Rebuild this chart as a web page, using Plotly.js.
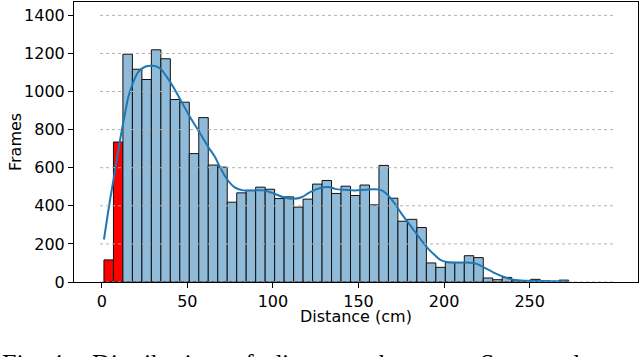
<!DOCTYPE html>
<html>
<head>
<meta charset="utf-8">
<script src="https://cdn.plot.ly/plotly-3.0.1.min.js"></script>
<style>
  html, body { margin: 0; padding: 0; background: #fff; overflow: hidden; }
  #chart { width: 640px; height: 357px; }
</style>
</head>
<body>
<div id="chart"></div>
<script>
// histogram bins (cm)
const binStart = 1.3;
const binWidth = 5.54;
const nearBins = 2; // the first bins are drawn in red

// frames per bin
const counts = [
  116, 735, 1196, 1117, 1063, 1219, 1172, 958, 944, 674,
  863, 614, 603, 419, 468, 481, 498, 487, 438, 447,
  393, 435, 514, 533, 465, 503, 454, 509, 405, 612,
  440, 319, 329, 286, 100, 77, 102, 102, 138, 128,
  21, 12, 24, 7, 5, 14, 4, 3, 10
];

// kde curve
const kdeX = [
  1.3, 4.8, 7.8, 10.7, 13.6, 15.6, 18.5, 21.4, 25.3, 30.1,
  34.1, 38.0, 41.8, 46.7, 51.6, 56.4, 62.3, 66.2, 68.1, 73.0,
  77.9, 82.7, 88.6, 94.4, 100.2, 106.1, 111.9, 116.8, 121.7, 127.5,
  133.4, 136.3, 142.1, 148.0, 153.8, 159.6, 163.6, 167.4, 171.3, 175.2,
  181.1, 186.9, 190.8, 194.7, 197.6, 201.5, 207.4, 213.2, 219.0, 222.9,
  228.7, 234.6, 240.4, 248.2, 256.0, 263.8, 272.8
];
const kdeY = [
  223, 428, 586, 744, 884, 972, 1051, 1103, 1130, 1135,
  1121, 1077, 1024, 945, 866, 796, 708, 656, 621, 542,
  495, 481, 481, 481, 466, 445, 437, 445, 472, 493,
  498, 489, 484, 481, 484, 487, 481, 454, 410, 358,
  287, 217, 174, 140, 118, 105, 102, 102, 95, 78,
  51, 28, 12, 6, 5, 4, 3
];

const xTicks = [0, 50, 100, 150, 200, 250];
const yTicks = [0, 200, 400, 600, 800, 1000, 1200, 1400];

const captionWords = ["Fig.", "4.", "Distribution", "of", "distances", "between", "Spot", "and"];

// bars
const centers = counts.map((_, i) => binStart + binWidth * (i + 0.5));
const barColors = counts.map((_, i) => (i < nearBins ? "#ff0000" : "#8fbbd9"));

const bars = {
  type: "bar",
  x: centers,
  y: counts,
  width: binWidth,
  marker: { color: barColors, line: { color: "#111", width: 1 } },
  hoverinfo: "x+y"
};

const kde = {
  type: "scatter",
  mode: "lines",
  x: kdeX,
  y: kdeY,
  line: { color: "#1f77b4", width: 2, shape: "spline", smoothing: 1 },
  hoverinfo: "skip"
};

// dotted horizontal guides
const guides = yTicks.map((v) => ({
  type: "line", xref: "x", yref: "y",
  x0: -1, x1: 299, y0: v, y1: v,
  line: { color: "#b0b0b0", width: 1, dash: "dot" },
  layer: "above"
}));

// caption of the paper figure, cut off at the bottom
const captionLeft = [0, 48, 90, 230, 267, 377, 478, 540];
const caption = captionWords.map((w, i) => ({
  text: w, showarrow: false,
  xref: "paper", yref: "paper",
  x: (captionLeft[i] - 74) / 564, y: (282 - 347) / 280,
  xanchor: "left", yanchor: "top",
  font: { family: "Liberation Serif", size: 26, color: "#000" }
}));

const axisFont = { family: "DejaVu Sans", size: 16, color: "#000" };

// axis titles placed by hand to sit where the reference has them
const titles = [
  { text: "Distance (cm)", x: 0.5, y: (282 - 316) / 280, textangle: 0 },
  { text: "Frames", x: (15 - 74) / 564, y: 0.5, textangle: -90 }
].map((t) => ({
  text: t.text, showarrow: false,
  xref: "paper", yref: "paper",
  x: t.x, y: t.y, textangle: t.textangle,
  xanchor: "center", yanchor: "middle",
  font: axisFont
}));

const layout = {
  width: 640,
  height: 357,
  margin: { l: 74, r: 2, t: 2, b: 75 },
  paper_bgcolor: "#fff",
  plot_bgcolor: "#fff",
  showlegend: false,
  bargap: 0,
  font: axisFont,
  xaxis: {
    range: [-16.2, 313.3],
    tickvals: xTicks,
    ticks: "outside", ticklen: 5, tickcolor: "#000",
    showline: true, mirror: true, linecolor: "#000", linewidth: 1,
    showgrid: false, zeroline: false,
    tickfont: axisFont
  },
  yaxis: {
    range: [0, 1470],
    tickvals: yTicks,
    ticks: "outside", ticklen: 5, tickcolor: "#000",
    showline: true, mirror: true, linecolor: "#000", linewidth: 1,
    showgrid: false, zeroline: false,
    tickfont: axisFont
  },
  shapes: guides,
  annotations: titles.concat(caption)
};

Plotly.newPlot("chart", [bars, kde], layout, { displayModeBar: false, staticPlot: true });
</script>
</body>
</html>
